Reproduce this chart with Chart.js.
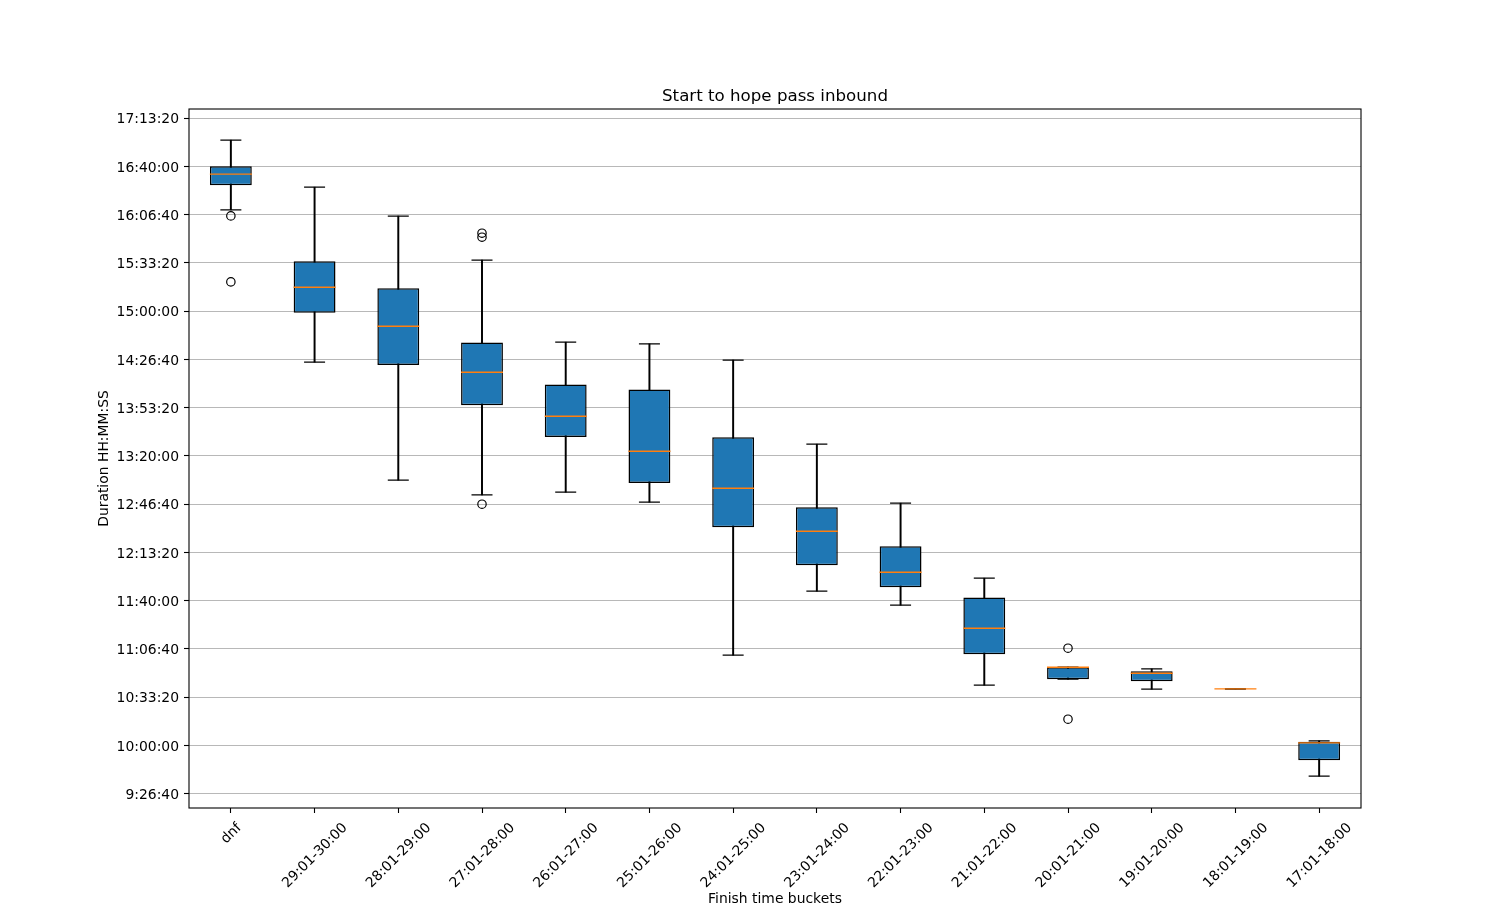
<!DOCTYPE html>
<html>
<head>
<meta charset="utf-8">
<script src="https://cdn.jsdelivr.net/npm/chart.js@4.4.1/dist/chart.umd.min.js"></script>
<style>
  html, body { margin: 0; padding: 0; background: #ffffff; }
  #wrap { width: 1512px; height: 909px; }
</style>
</head>
<body>
<div id="wrap"><canvas id="c" width="1512" height="909"></canvas></div>
<script>
// ---- data (durations in seconds) ----
const categories = ['dnf', '29:01-30:00', '28:01-29:00', '27:01-28:00', '26:01-27:00', '25:01-26:00',
  '24:01-25:00', '23:01-24:00', '22:01-23:00', '21:01-22:00', '20:01-21:00', '19:01-20:00',
  '18:01-19:00', '17:01-18:00'];
const whiskerLow  = [58199, 51886, 46995, 46386, 46497, 46083, 39741, 42394, 41814, 38498, 38747, 38332, 38346, 34726];
const quartile1   = [59223, 53930, 51774, 50104, 48790, 46883, 45047, 43472, 42560, 39783, 38747, 38663, 38346, 35389];
const medians     = [59679, 54995, 53378, 51472, 49648, 48197, 46663, 44881, 43182, 40860, 39244, 38995, 38346, 36107];
const quartile3   = [60010, 56073, 54953, 52699, 50958, 50750, 48777, 45876, 44259, 42130, 39244, 39078, 38346, 36149];
const whiskerHigh = [61088, 59140, 57938, 56114, 52715, 52645, 51969, 48487, 46041, 42933, 39244, 39173, 38346, 36190];
const outlierCats = ['dnf', 'dnf', '27:01-28:00', '27:01-28:00', '27:01-28:00', '20:01-21:00', '20:01-21:00'];
const outlierVals = [57950, 55214, 57233, 57067, 46000, 40031, 37088];
const yTickValues = [34000, 36000, 38000, 40000, 42000, 44000, 46000, 48000, 50000, 52000, 54000, 56000, 58000, 60000, 62000];
const yMin = 33408, yMax = 62380;

function fmt(sec) {
  const h = Math.floor(sec / 3600);
  const m = Math.floor((sec % 3600) / 60);
  const s = Math.round(sec % 60);
  return h + ':' + String(m).padStart(2, '0') + ':' + String(s).padStart(2, '0');
}

const FONT = 'DejaVu Sans';
const TICK_PX = 13.9;

const frame = {
  id: 'frame',
  afterDatasetsDraw(chart) {
    const a = chart.chartArea, ctx = chart.ctx;
    ctx.save();
    ctx.strokeStyle = '#000';
    ctx.lineWidth = 1.1;
    ctx.strokeRect(a.left, a.top, a.right - a.left, a.bottom - a.top);
    ctx.restore();
  }
};

const xLabels = {
  id: 'xLabels',
  afterDraw(chart) {
    const sx = chart.scales.x, ctx = chart.ctx;
    ctx.save();
    ctx.font = TICK_PX + 'px "' + FONT + '"';
    ctx.fillStyle = '#000';
    const top = sx.top + 5 + 4.9;
    const h = TICK_PX * 1.17;
    categories.forEach((lab, i) => {
      const x = sx.getPixelForTick(i);
      const w = ctx.measureText(lab).width;
      const half = (w + h) * Math.SQRT1_2 / 2;
      ctx.save();
      ctx.translate(x + 0.5, top + half + 2);
      ctx.rotate(-Math.PI / 4);
      ctx.textAlign = 'center';
      ctx.textBaseline = 'middle';
      ctx.fillText(lab, 0, 0);
      ctx.restore();
    });
    ctx.restore();
  }
};

const pts = (vals) => vals.map((v, i) => ({ x: categories[i], y: v }));

new Chart(document.getElementById('c'), {
  type: 'bar',
  data: {
    labels: categories,
    datasets: [
      {
        type: 'bar', label: 'whiskers', order: 5, grouped: false,
        data: categories.map((c, i) => [whiskerLow[i], whiskerHigh[i]]),
        backgroundColor: '#000', borderWidth: 0, barThickness: 1.3
      },
      {
        type: 'bar', label: 'boxes', order: 4, grouped: false,
        data: categories.map((c, i) => [quartile1[i], quartile3[i]]),
        backgroundColor: '#1f77b4', borderColor: '#000', borderWidth: 1.5, borderSkipped: false,
        barPercentage: 0.5, categoryPercentage: 1.0
      },
      {
        type: 'line', label: 'capsLow', order: 3, showLine: false,
        data: pts(whiskerLow),
        pointStyle: 'line', pointRadius: 10.5, pointBorderColor: '#000', pointBorderWidth: 1.3,
        pointHoverRadius: 10.5
      },
      {
        type: 'line', label: 'capsHigh', order: 3, showLine: false,
        data: pts(whiskerHigh),
        pointStyle: 'line', pointRadius: 10.5, pointBorderColor: '#000', pointBorderWidth: 1.3,
        pointHoverRadius: 10.5
      },
      {
        type: 'line', label: 'median', order: 1, showLine: false,
        data: pts(medians),
        pointStyle: 'line', pointRadius: 21, pointBorderColor: '#ff7f0e', pointBorderWidth: 1.4,
        pointHoverRadius: 21
      },
      {
        type: 'line', label: 'outliers', order: 2, showLine: false,
        data: outlierCats.map((c, i) => ({ x: c, y: outlierVals[i] })),
        pointStyle: 'circle', pointRadius: 4.2, pointBorderColor: '#000', pointBackgroundColor: 'rgba(0,0,0,0)',
        pointBorderWidth: 1.2, pointHoverRadius: 4.2
      }
    ]
  },
  options: {
    responsive: false,
    animation: false,
    events: [],
    devicePixelRatio: 1,
    layout: { padding: { left: 92, right: 151, top: 0, bottom: 0 } },
    plugins: {
      legend: { display: false },
      tooltip: { enabled: false },
      title: {
        display: true, fullSize: false, text: 'Start to hope pass inbound', color: '#000',
        font: { family: FONT, size: 16.67, weight: 'normal', lineHeight: 1.2 },
        padding: { top: 87, bottom: 2 }
      }
    },
    scales: {
      x: {
        type: 'category', offset: true,
        grid: { display: true, drawOnChartArea: false, drawTicks: true, tickLength: 5, tickColor: '#000', tickWidth: 1.1, offset: false },
        border: { display: false },
        ticks: { display: false },
        title: { display: true, text: 'Finish time buckets', color: '#000', font: { family: FONT, size: TICK_PX, lineHeight: 1.2 }, padding: { top: 0, bottom: 1 } },
        afterFit(scale) { scale.height = 101; }
      },
      y: {
        type: 'linear', min: yMin, max: yMax,
        grid: { color: '#b0b0b0', lineWidth: 0.9, tickLength: 5, tickColor: '#000', tickWidth: 1.1 },
        border: { display: false },
        afterBuildTicks(scale) { scale.ticks = yTickValues.map(v => ({ value: v })); },
        ticks: { color: '#000', font: { family: FONT, size: TICK_PX }, padding: 5, labelOffset: 1.5, callback: (v) => fmt(v) },
        title: { display: true, text: 'Duration HH:MM:SS', color: '#000', font: { family: FONT, size: TICK_PX, lineHeight: 1.2 }, padding: { top: 4, bottom: 0 } },
        afterFit(scale) { scale.width = 97; }
      }
    }
  },
  plugins: [frame, xLabels]
});
</script>
</body>
</html>
